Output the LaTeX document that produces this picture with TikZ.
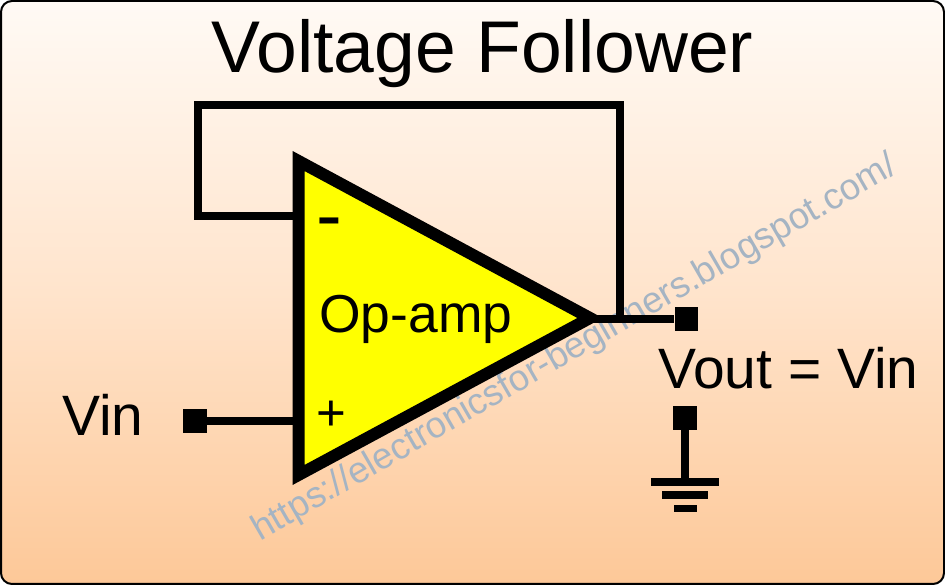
\documentclass[tikz,border=0pt]{standalone}
\usepackage{fontspec}
\setmainfont{Liberation Sans}
\usetikzlibrary{positioning}
\definecolor{ampfill}{RGB}{255,255,0}
\definecolor{paneltop}{RGB}{255,250,245}
\definecolor{panelmid}{RGB}{255,228,204}
\definecolor{panelbot}{RGB}{253,200,152}
\definecolor{urlgray}{RGB}{165,180,195}

\begin{document}
\begin{tikzpicture}[
    every node/.style={inner sep=0pt, text=black},
    wire/.style={line width=0.16cm, black, line cap=butt, line join=miter},
    pin/.style={rectangle, fill=black, minimum size=0.47cm},
    gbar/.style={rectangle, fill=black, minimum height=0.155cm},
    lab/.style={font=\fontsize{32.4}{36}\selectfont, anchor=base west},
]
\useasboundingbox (0,0) rectangle (18.9,11.7);

% Panel
\draw[line width=0.04cm, black, rounded corners=0.22cm, top color=paneltop, bottom color=panelbot, middle color=panelmid]
    (0.02,0.02) rectangle (18.88,11.68);

% Watermark, under the circuit
\node[font=\fontsize{20.8}{24}\selectfont, text=urlgray, rotate=30, anchor=base west] (url) at (5.2, 0.87) {https://electronicsfor-beginners.blogspot.com/};

% Corners of the amplifier
\coordinate (top) at (5.97, 8.48);
\coordinate (bot) at (5.97, 2.2);
\coordinate (tip) at (11.8, 5.34);

% Pins
\node[pin] (vin) at (3.9, 3.28) {};
\node[pin] (vout) at (13.73, 5.32) {};
\node[pin] (gnd) at (13.7, 3.34) {};

% Ground bars
\node[gbar, minimum width=1.36cm] (g1) at (13.7, 2.06) {};
\node[gbar, minimum width=0.92cm] (g2) at (13.7, 1.8) {};
\node[gbar, minimum width=0.46cm] (g3) at (13.7, 1.53) {};

% Feedback loop
\coordinate (inv) at (5.97, 7.38);
\coordinate (noninv) at (5.97, 3.28);
\coordinate (fbleft) at (3.96, 9.6);
\coordinate (fbright) at (12.4, 9.6);
\coordinate (fbdown) at (12.4, 5.32);
\coordinate (out) at (11.8, 5.32);

\draw[wire] (inv) -| (fbleft) -- (fbright) -- (fbdown);
\draw[wire] (out) -- (vout);
\draw[wire] (vin) -- (noninv);
\draw[wire] (gnd) -- (g1);

% Amplifier body
\draw[line width=0.24cm, black, fill=ampfill, line join=miter] (top) -- (tip) -- (bot) -- cycle;

% Labels
\node[font=\fontsize{41.7}{48}\selectfont, anchor=base] (title) at (9.65, 10.24) {Voltage Follower};
\node[font=\fontsize{30.4}{36}\selectfont, anchor=base west] (opamp) at (6.38, 5.04) {Op-amp};
\node[lab] (vinlab) at (1.24, 2.98) {Vin};
\node[lab] (voutlab) at (13.16, 3.92) {Vout = Vin};
\node[font=\fontsize{44}{48}\selectfont] (minus) at (6.59, 7.11) {-};
\node[font=\fontsize{29}{36}\selectfont] (plus) at (6.62, 3.38) {+};

\end{tikzpicture}
\end{document}
